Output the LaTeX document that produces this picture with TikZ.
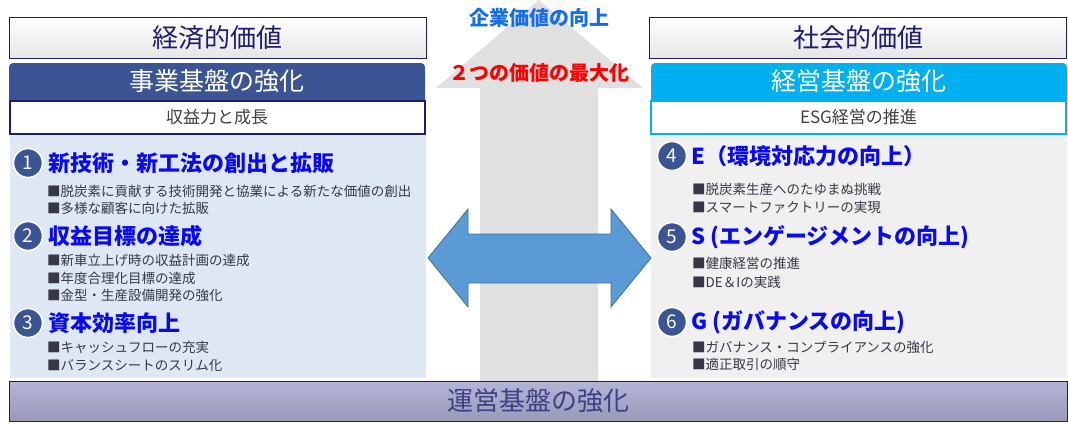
\documentclass[tikz,border=0pt]{standalone}
\usepackage{fontspec}
\setmainfont{Noto Sans CJK JP}
\definecolor{navy}{RGB}{30,30,110}
\definecolor{bizblue}{RGB}{59,84,147}
\definecolor{mgtcyan}{RGB}{0,176,240}
\definecolor{paleblue}{RGB}{222,232,245}
\definecolor{palegray}{RGB}{240,240,240}
\definecolor{headblue}{RGB}{10,10,240}
\definecolor{bodygray}{RGB}{55,55,70}
\definecolor{lavender}{RGB}{180,180,216}
\definecolor{arrowgray}{RGB}{224,224,224}
\definecolor{arrowblue}{RGB}{91,155,213}
\definecolor{arrowedge}{RGB}{65,113,156}
\definecolor{valueblue}{RGB}{20,110,235}

\begin{document}
\begin{tikzpicture}[x=1pt,y=-1pt,
    title/.style={draw=navy, line width=1pt, top color=white, middle color=white, bottom color=gray!20,
      minimum width=417pt, minimum height=41pt, inner sep=0pt, text=navy, font=\fontsize{26}{26}\selectfont},
    header/.style={text=white, font=\fontsize{25}{25}\selectfont},
    subbox/.style={fill=white, line width=2pt, minimum width=415pt, minimum height=33pt, inner sep=0pt,
      text=black!75, font=\fontsize{17}{17}\selectfont},
    numdot/.style={circle, fill=bizblue, draw=white, line width=1.5pt, minimum size=29pt, inner sep=0pt,
      text=white, font=\fontsize{19}{19}\selectfont},
    headline/.style={anchor=west, inner sep=0pt, text=headblue, font=\fontsize{22}{22}\selectfont\bfseries},
    bullet/.style={anchor=west, inner sep=0pt, text=bodygray, font=\fontsize{13.5}{13.5}\selectfont}]
  \useasboundingbox (0,0) rectangle (1068,423);

  % content panels
  \fill[paleblue] (10,134) rectangle (426,378);
  \fill[palegray] (651,134) rectangle (1067,378);

  % upward arrow
  \fill[arrowgray] (480,382) -- (480,88) -- (436,88) -- (539,0) -- (643,88) -- (598,88) -- (598,382) -- cycle;
  \node[text=valueblue, font=\fontsize{20}{20}\selectfont\bfseries] (corpval) at (539,18) {企業価値の向上};
  \node[text=red, font=\fontsize{20}{20}\selectfont\bfseries] (maxval) at (539,73) {２つの価値の最大化};

  % two-way arrow
  \filldraw[fill=arrowblue, draw=arrowedge, line width=0.8pt] (428,258) -- (468,209) -- (468,234) -- (611,234)
    -- (611,209) -- (651,258) -- (611,307) -- (611,283) -- (468,283) -- (468,307) -- cycle;

  % economic value
  \node[title] (econ) at (217.5,37.5) {経済的価値};
  \fill[bizblue, rounded corners=4pt] (9,63) rectangle (425,110);
  \node[header] (bizbase) at (217,81.5) {事業基盤の強化};
  \node[subbox, draw=navy] (bizsub) at (217,117) {収益力と成長};

  % social value
  \node[title] (social) at (858,37.5) {社会的価値};
  \fill[mgtcyan, rounded corners=4pt] (651,63) rectangle (1067,110);
  \node[header] (mgtbase) at (859,81.5) {経営基盤の強化};
  \node[subbox, draw=mgtcyan] (mgtsub) at (858.5,117) {ESG経営の推進};

  % left items
  \node[numdot] (n1) at (28,163) {1};
  \node[headline] (h1) at (48,163) {新技術・新工法の創出と拡販};
  \node[bullet] (b11) at (47,191) {■脱炭素に貢献する技術開発と協業による新たな価値の創出};
  \node[bullet] (b12) at (47,208) {■多様な顧客に向けた拡販};

  \node[numdot] (n2) at (28,236) {2};
  \node[headline] (h2) at (48,236) {収益目標の達成};
  \node[bullet] (b21) at (47,260) {■新車立上げ時の収益計画の達成};
  \node[bullet] (b22) at (47,278) {■年度合理化目標の達成};
  \node[bullet] (b23) at (47,295) {■金型・生産設備開発の強化};

  \node[numdot] (n3) at (28,323) {3};
  \node[headline] (h3) at (48,323) {資本効率向上};
  \node[bullet] (b31) at (47,347) {■キャッシュフローの充実};
  \node[bullet] (b32) at (47,365) {■バランスシートのスリム化};

  % right items
  \node[numdot] (n4) at (672,156) {4};
  \node[headline] (h4) at (691,156) {E（環境対応力の向上）};
  \node[bullet] (b41) at (692,189) {■脱炭素生産へのたゆまぬ挑戦};
  \node[bullet] (b42) at (692,207) {■スマートファクトリーの実現};

  \node[numdot] (n5) at (672,237) {5};
  \node[headline] (h5) at (691,237) {S (エンゲージメントの向上)};
  \node[bullet] (b51) at (692,263) {■健康経営の推進};
  \node[bullet] (b52) at (692,282) {■DE＆Iの実践};

  \node[numdot] (n6) at (672,322) {6};
  \node[headline] (h6) at (691,322) {G (ガバナンスの向上)};
  \node[bullet] (b61) at (692,347) {■ガバナンス・コンプライアンスの強化};
  \node[bullet] (b62) at (692,364) {■適正取引の順守};

  % operating base
  \node[draw=navy, line width=1pt, top color=lavender, middle color=lavender, bottom color=lavender!85!black,
    minimum width=1058pt, minimum height=40pt, inner sep=0pt, text=navy!85,
    font=\fontsize{26}{26}\selectfont] (opbase) at (538,401) {運営基盤の強化};
\end{tikzpicture}
\end{document}
